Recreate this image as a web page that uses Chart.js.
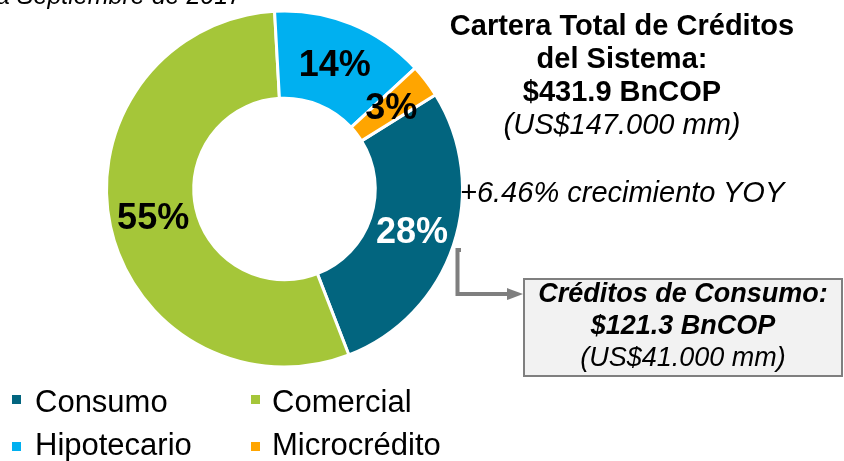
<!DOCTYPE html>
<html>
<head>
<meta charset="utf-8">
<script src="https://cdn.jsdelivr.net/npm/chart.js@4"></script>
<style>
  body { margin: 0; background: #fff; overflow: hidden; }
  #wrap { position: relative; width: 844px; height: 461px; overflow: hidden;
    font-family: "Liberation Sans", Arial, sans-serif; color: #000; }
  #myChart { position: absolute; left: 0; top: 0; }
  .txt { position: absolute; white-space: nowrap; }
  #fecha { left: -4px; top: -17px; font-size: 25px; line-height: 25px; font-style: italic; }
  #total { left: 422px; top: 8.5px; width: 400px; text-align: center;
    font-size: 29px; line-height: 33.3px; font-weight: bold; }
  #total .usd { font-weight: normal; font-style: italic; }
  #yoy { left: 460px; top: 175.5px; font-size: 29px; line-height: 33px; font-style: italic; }
  #box { position: absolute; left: 523px; top: 278px; width: 320px; height: 99px;
    box-sizing: border-box; border: 2px solid #7f7f7f; background: #f2f2f2; }
  #boxText { left: 523px; top: 277px; width: 320px; text-align: center;
    font-size: 27px; line-height: 32px; font-style: italic; }
  #boxText b { font-weight: bold; }
  .leg { position: absolute; font-size: 31px; line-height: 31px; white-space: nowrap; }
  .sq { position: absolute; width: 9px; height: 9px; }
  #arrow { position: absolute; left: 0; top: 0; }
</style>
</head>
<body>
<div id="wrap">
  <canvas id="myChart" width="844" height="461"></canvas>
  <div class="txt" id="fecha">a Septiembre de 2017</div>
  <div class="txt" id="total">Cartera Total de Créditos<br>del Sistema:<br>$431.9 BnCOP<br><span class="usd">(US$147.000 mm)</span></div>
  <div class="txt" id="yoy">+6.46% crecimiento YOY</div>
  <svg id="arrow" width="844" height="461">
    <polyline points="461,250 457.5,250 457.5,294 509,294" fill="none" stroke="#7f7f7f" stroke-width="4"/>
    <polygon points="507,288 523,294 507,300" fill="#7f7f7f"/>
  </svg>
  <div id="box"></div>
  <div class="txt" id="boxText"><b>Créditos de Consumo:<br>$121.3 BnCOP</b><br>(US$41.000 mm)</div>
  <div id="legend"></div>
</div>
<script>
// participación por tipo de cartera (%)
const categories = ["Consumo", "Comercial", "Hipotecario", "Microcrédito"];
const shares = [28, 55, 14, 3];
const colors = ["#02657F", "#A5C639", "#00B0F0", "#FFA500"];
const labelColors = ["#ffffff", "#000000", "#000000", "#000000"];

const pctLabels = {
  id: "pctLabels",
  afterDatasetsDraw(chart) {
    const ctx = chart.ctx;
    const meta = chart.getDatasetMeta(0);
    const total = shares.reduce((a, b) => a + b, 0);
    ctx.save();
    ctx.font = "bold 36px 'Liberation Sans', Arial, sans-serif";
    ctx.textAlign = "center";
    ctx.textBaseline = "middle";
    meta.data.forEach((arc, i) => {
      const p = arc.tooltipPosition();
      ctx.fillStyle = labelColors[i];
      ctx.fillText(Math.round(shares[i] / total * 100) + "%", p.x, p.y + 2);
    });
    ctx.restore();
  },
};

function drawChart() {
  const ctx = document.getElementById("myChart").getContext("2d");
  new Chart(ctx, {
    type: "doughnut",
    data: {
      labels: categories,
      datasets: [
        {
          data: shares,
          backgroundColor: colors,
          borderColor: "#ffffff",
          borderWidth: 3,
        },
      ],
    },
    options: {
      responsive: false,
      animation: false,
      rotation: 58,
      cutout: "51%",
      layout: { padding: { left: 105, top: 9, right: 380, bottom: 92 } },
      plugins: {
        legend: { display: false },
        tooltip: { enabled: false },
      },
    },
    plugins: [pctLabels],
  });
}

function drawLegend() {
  const legend = document.getElementById("legend");
  categories.forEach((name, i) => {
    const col = i % 2;
    const row = Math.floor(i / 2);
    const sq = document.createElement("div");
    sq.className = "sq";
    sq.style.background = colors[i];
    sq.style.left = (col ? 251 : 12) + "px";
    sq.style.top = (row ? 442 : 395) + "px";
    const txt = document.createElement("div");
    txt.className = "leg";
    txt.textContent = name;
    txt.style.left = (col ? 272 : 35) + "px";
    txt.style.top = (row ? 429 : 386) + "px";
    legend.appendChild(sq);
    legend.appendChild(txt);
  });
}

drawChart();
drawLegend();
</script>
</body>
</html>
